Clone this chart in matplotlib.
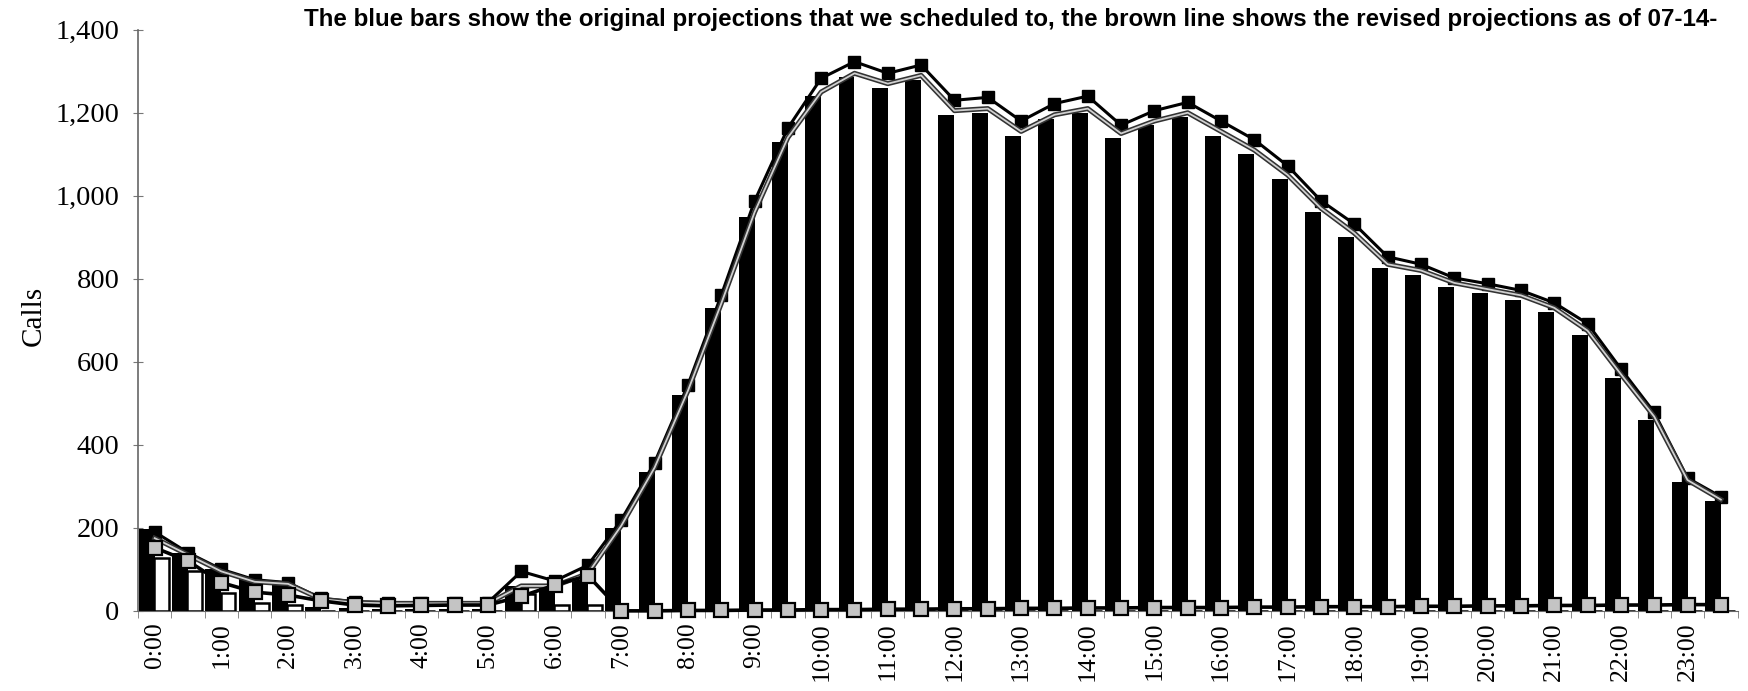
import matplotlib.pyplot as plt
import matplotlib.patheffects as pe
import numpy as np
from matplotlib.ticker import FuncFormatter

# half-hour intervals, 0:00 .. 23:30
slots = [f"{h}:{m:02d}" for h in range(24) for m in (0, 30)]
hour_labels = [f"{h}:00" for h in range(24)]

# original projections (bars)
original = [197, 140, 100, 76, 72, 10, 8, 5, 5, 5, 5, 60, 55, 75,
            200, 335, 520, 730, 950, 1130, 1240, 1285, 1260, 1280,
            1195, 1200, 1145, 1185, 1200, 1140, 1170, 1190, 1145, 1100,
            1040, 960, 900, 825, 810, 780, 765, 750, 720, 665, 560, 460,
            310, 265]

# calls handled in the night shift (white bars)
handled = [128, 96, 44, 20, 15, 0, 0, 0, 0, 0, 0, 40, 15, 15,
           0, 0, 0, 0, 0, 0, 0, 0, 0, 0, 0, 0, 0, 0, 0, 0, 0, 0, 0, 0,
           0, 0, 0, 0, 0, 0, 0, 0, 0, 0, 0, 0, 0, 0]

# revised projections (black line)
revised = [190, 140, 100, 75, 68, 30, 22, 20, 20, 20, 20, 95, 72, 110,
           219, 357, 544, 760, 987, 1163, 1283, 1323, 1295, 1315,
           1230, 1237, 1180, 1222, 1240, 1170, 1205, 1225, 1180, 1135,
           1072, 988, 932, 853, 835, 802, 788, 772, 742, 692, 583, 478,
           320, 275]

# adjusted schedule (thin light line)
adjusted = [175, 135, 95, 70, 65, 28, 20, 18, 18, 18, 18, 60, 60, 90,
            205, 345, 530, 740, 960, 1140, 1250, 1295, 1270, 1290,
            1205, 1210, 1155, 1195, 1210, 1150, 1180, 1200, 1155, 1110,
            1050, 970, 910, 835, 820, 790, 775, 760, 730, 675, 570, 468,
            315, 268]

# overflow calls (gray squares)
overflow = [152, 120, 68, 45, 38, 24, 14, 12, 13, 14, 14, 35, 62, 85,
            0, 0, 1, 1, 2, 2, 3, 3, 4, 4, 5, 5, 6, 6, 7, 7, 8, 8, 8,
            9, 9, 10, 10, 10, 11, 11, 12, 12, 13, 13, 14, 14, 15, 15]

x = np.arange(len(slots))

fig = plt.figure(figsize=(17.48, 6.91), dpi=100)
ax = fig.add_axes([0.079, 0.116, 0.915, 0.841])

ax.bar(x - 0.24, original, width=0.48, color='black', zorder=2)
ax.bar(x + 0.2, handled, width=0.44, color='white', edgecolor='black',
       linewidth=1.8, zorder=3)

ax.plot(x, revised, color='black', lw=2.2, marker='s', ms=8,
        mfc='black', mec='black', zorder=4)
ax.plot(x, adjusted, color='#d0d0d0', lw=1.3, zorder=4,
        path_effects=[pe.Stroke(linewidth=3.6, foreground='#333333'), pe.Normal()])
ax.plot(x, overflow, color='black', lw=2.6, marker='s', ms=10,
        mfc='#c4c4c4', mec='black', mew=1.6, zorder=5, clip_on=False)

ax.set_xlim(-0.5, len(slots) - 0.5)
ax.set_ylim(0, 1400)
ax.set_yticks(np.arange(0, 1401, 200))
ax.yaxis.set_major_formatter(FuncFormatter(lambda v, p: f"{int(v):,}"))

ax.set_xticks(x[::2])
ax.set_xticklabels(hour_labels, rotation=90, fontfamily='Liberation Serif',
                   fontsize=18.5)
ax.set_xticks(np.arange(-0.5, len(slots), 1), minor=True)
ax.tick_params(axis='x', which='major', length=0, pad=8)
ax.tick_params(axis='x', which='minor', length=5, color='#777777')
ax.tick_params(axis='y', direction='inout', length=7, color='#777777',
               labelsize=20.5, pad=10)
for t in ax.get_yticklabels():
    t.set_fontfamily('Liberation Serif')

ax.set_ylabel('Calls', fontfamily='Liberation Serif', fontsize=21)
ax.yaxis.set_label_coords(-0.057, 0.508)

for s in ('top', 'right'):
    ax.spines[s].set_visible(False)
ax.spines['left'].set_color('#666666')
ax.spines['left'].set_linewidth(1.2)
ax.spines['bottom'].set_color('#666666')

fig.text(0.174, 0.972, 'The blue bars show the original projections that we scheduled to, '
         'the brown line shows the revised projections as of 07-14-',
         fontfamily='Liberation Sans', fontweight='bold', fontsize=17.4,
         ha='left', va='center')

fig.savefig('out.png', dpi=100)
